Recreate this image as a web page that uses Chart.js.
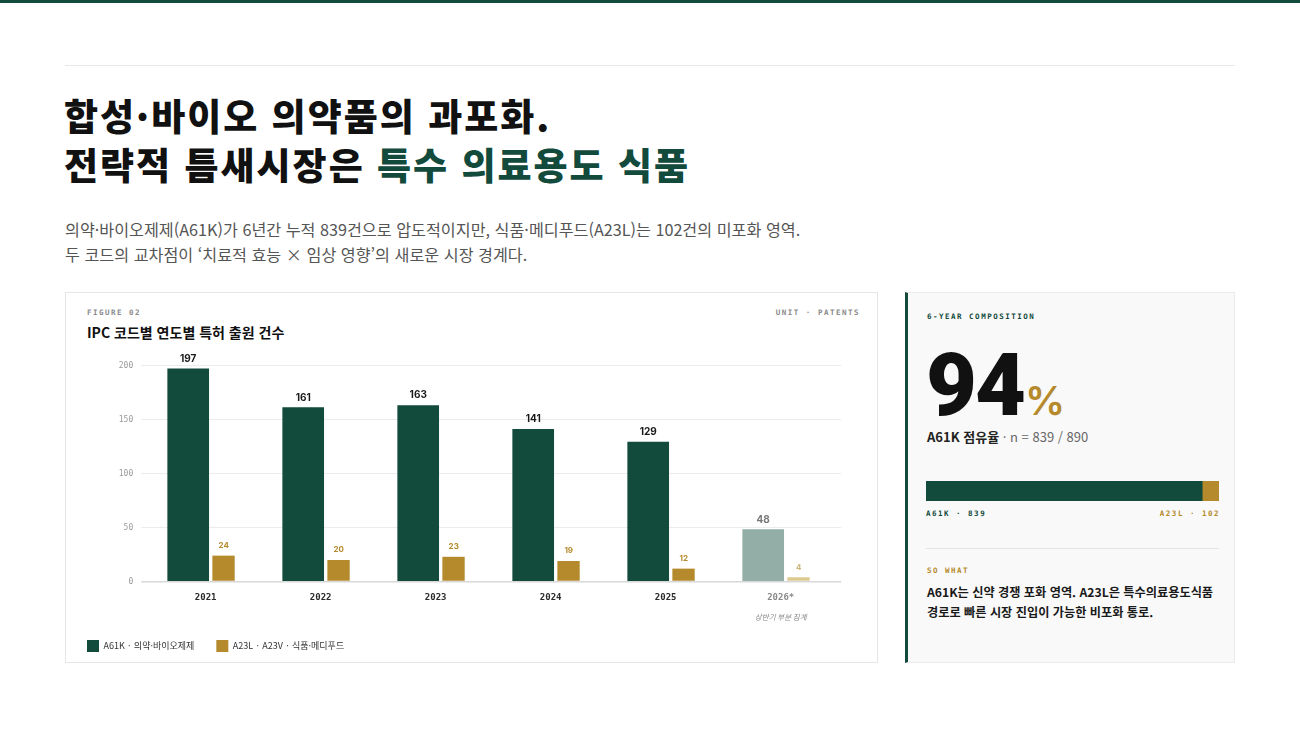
<!DOCTYPE html>
<html lang="ko">
<head>
<meta charset="utf-8">
<script src="https://cdn.jsdelivr.net/npm/chart.js@4.4.1/dist/chart.umd.min.js"></script>
<style>
	body { margin: 0; width: 1300px; height: 731px; position: relative; background: #fff; font-family: "Noto Sans CJK KR", "Noto Sans", sans-serif; overflow: hidden; }
	.abs { position: absolute; }
	.mono { font-family: "DejaVu Sans Mono", monospace; font-size: 7.5px; font-weight: bold; letter-spacing: 1.5px; line-height: 10px; white-space: nowrap; }
	#topbar { left: 0; top: 0; width: 1300px; height: 3px; background: #124a3c; }
	#rule { left: 65px; top: 65px; width: 1170px; height: 1px; background: #e8e8e8; }
	h1 { margin: 0; left: 64px; top: 91px; font-size: 37px; line-height: 49px; font-weight: 900; color: #111; letter-spacing: 2px; white-space: nowrap; }
	h1 em { font-style: normal; color: #124a3c; }
	#lead { margin: 0; left: 65px; top: 217px; font-size: 16.2px; line-height: 25px; color: #555; white-space: nowrap; }
	#card { left: 65px; top: 292px; width: 811px; height: 369px; border: 1px solid #e6e6e6; background: #fff; }
	#side { left: 905px; top: 292px; width: 326px; height: 369px; border: 1px solid #ebebeb; border-left: 3px solid #124a3c; background: #f9f9f9; }
</style>
</head>
<body>
<div id="topbar" class="abs"></div>
<div id="rule" class="abs"></div>
<h1 class="abs">합성·바이오 의약품의 과포화.<br>전략적 틈새시장은 <em>특수 의료용도 식품</em></h1>
<p id="lead" class="abs">의약·바이오제제(A61K)가 6년간 누적 839건으로 압도적이지만, 식품·메디푸드(A23L)는 102건의 미포화 영역.<br>두 코드의 교차점이 ‘치료적 효능 × 임상 영향’의 새로운 시장 경계다.</p>

<div id="card" class="abs"></div>
<div class="abs mono" style="left:87px;top:308px;color:#8a8a8a;">FIGURE 02</div>
<div class="abs mono" style="right:440px;top:308px;color:#8a8a8a;">UNIT · PATENTS</div>
<div class="abs" style="left:87px;top:322px;font-size:14px;line-height:20px;font-weight:700;color:#111;">IPC 코드별 연도별 특허 출원 건수</div>
<div class="abs" style="left:65px;top:345px;width:812px;height:317px;"><canvas id="patentChart"></canvas></div>

<div id="side" class="abs"></div>
<div class="abs mono" style="left:927px;top:312px;color:#124a3c;">6-YEAR COMPOSITION</div>
<div class="abs" style="left:926px;top:341px;display:flex;align-items:baseline;white-space:nowrap;">
	<span style="font-family:Roboto,sans-serif;font-weight:900;font-size:88px;line-height:88px;letter-spacing:-2px;color:#111;">94</span>
	<span style="font-family:Inter,sans-serif;font-weight:600;font-size:40px;color:#b58a2c;margin-left:1px;">%</span>
</div>
<div class="abs" style="left:927px;top:427px;font-size:13px;line-height:20px;white-space:nowrap;"><b style="color:#222;">A61K 점유율</b> <span style="color:#666;">· n = 839 / 890</span></div>
<div class="abs" style="left:926px;top:481px;width:293px;height:20px;"><canvas id="shareChart"></canvas></div>
<div class="abs mono" style="left:926px;top:509px;color:#124a3c;">A61K · 839</div>
<div class="abs mono" style="right:80px;top:509px;color:#b58a2c;">A23L · 102</div>
<div class="abs" style="left:926px;top:548px;width:293px;height:1px;background:#e4e4e4;"></div>
<div class="abs mono" style="left:927px;top:566px;color:#b58a2c;">SO WHAT</div>
<div class="abs" style="left:927px;top:582px;font-size:12.2px;line-height:20px;font-weight:700;color:#1a1a1a;white-space:nowrap;">A61K는 신약 경쟁 포화 영역. A23L은 특수의료용도식품<br>경로로 빠른 시장 진입이 가능한 비포화 통로.</div>

<script>
const years = ["2021", "2022", "2023", "2024", "2025", "2026*"];
const a61k = [197, 161, 163, 141, 129, 48];
const a23l = [24, 20, 23, 19, 12, 4];
const yMax = 200;
const yStep = 50;
const partialIndex = 5;
const partialNote = "상반기 부분 집계";

const shareTotal = 890;
const shareA61k = 839;
const shareA23l = 102;

const green = "#124a3c";
const greenLight = "#93aea7";
const gold = "#b58a2c";
const goldLight = "#dcc891";
const mono = "'DejaVu Sans Mono', monospace";
const sans = "'Noto Sans CJK KR', sans-serif";

// value labels above the bars
const valueLabels = {
	id: "valueLabels",
	afterDatasetsDraw(chart) {
		const ctx = chart.ctx;
		ctx.save();
		ctx.textAlign = "center";
		ctx.textBaseline = "bottom";
		chart.data.datasets.forEach((ds, di) => {
			chart.getDatasetMeta(di).data.forEach((bar, i) => {
				const partial = i === partialIndex;
				if (di === 0) {
					ctx.font = "bold 10px Inter, sans-serif";
					ctx.fillStyle = partial ? "#777" : "#1a1a1a";
					ctx.fillText(ds.data[i], bar.x, bar.y - 5);
				} else {
					ctx.font = "bold 8px Inter, sans-serif";
					ctx.fillStyle = partial ? "#cdb579" : gold;
					ctx.fillText(ds.data[i], bar.x + 2, bar.y - 6);
				}
			});
		});
		ctx.restore();
	},
	afterDraw(chart) {
		const ctx = chart.ctx;
		const x = chart.scales.x.getPixelForValue(partialIndex) - 3;
		ctx.save();
		ctx.font = "italic 7.5px " + sans;
		ctx.fillStyle = "#888";
		ctx.textAlign = "center";
		ctx.textBaseline = "middle";
		ctx.fillText(partialNote, x, chart.chartArea.bottom + 35.5);
		ctx.restore();
	},
};

const canvaPatent = document.getElementById("patentChart").getContext("2d");
const patentChart = new Chart(canvaPatent, {
	type: "bar",
	data: {
		labels: years,
		datasets: [
			{
				label: "A61K · 의약·바이오제제",
				data: a61k,
				backgroundColor: (c) => (c.dataIndex === partialIndex ? greenLight : green),
				barThickness: 41,
				borderWidth: 0,
			},
			{
				label: "A23L · A23V · 식품·메디푸드",
				data: a23l,
				backgroundColor: (c) => (c.dataIndex === partialIndex ? goldLight : gold),
				barThickness: 26,
				borderWidth: { left: 4, right: 0, top: 0, bottom: 0 },
				borderColor: "#ffffff",
				borderSkipped: false,
			},
		],
	},
	options: {
		responsive: true,
		maintainAspectRatio: false,
		animation: false,
		layout: { padding: { top: 20.5, right: 35.8, bottom: 0, left: 0 } },
		scales: {
			x: {
				grid: { display: false, drawTicks: false },
				border: { display: false },
				ticks: {
					padding: 11,
					labelOffset: -3,
					color: (c) => (c.index === partialIndex ? "#8a8a8a" : "#2a2a2a"),
					font: { family: mono, size: 9, weight: "bold" },
				},
				afterFit: (s) => { s.height = 36.5; },
			},
			y: {
				min: 0,
				max: yMax,
				ticks: {
					stepSize: yStep,
					padding: 8,
					color: "#9a9a9a",
					font: { family: mono, size: 8 },
				},
				grid: {
					color: (c) => (c.tick && c.tick.value === 0 ? "#d8d8d8" : "#ececec"),
					lineWidth: (c) => (c.tick && c.tick.value === 0 ? 1.5 : 1),
					drawTicks: true,
					tickLength: 10,
				},
				border: { display: false },
				afterFit: (s) => { s.width = 86.2; },
			},
		},
		plugins: {
			tooltip: { enabled: false },
			legend: {
				position: "bottom",
				align: "start",
				labels: {
					boxWidth: 12,
					boxHeight: 12,
					padding: 22,
					color: "#333",
					font: { family: sans, size: 9 },
					generateLabels: (ch) =>
						Chart.defaults.plugins.legend.labels.generateLabels(ch).map((l) => ({ ...l, lineWidth: 0 })),
				},
			},
		},
	},
	plugins: [valueLabels],
});

// 6-year composition bar, clipped at the total
const canvaShare = document.getElementById("shareChart").getContext("2d");
const shareChart = new Chart(canvaShare, {
	type: "bar",
	data: {
		labels: ["6Y"],
		datasets: [
			{ label: "A61K", data: [shareA61k], backgroundColor: green, barPercentage: 1, categoryPercentage: 1 },
			{ label: "A23L", data: [shareA23l], backgroundColor: gold, barPercentage: 1, categoryPercentage: 1 },
		],
	},
	options: {
		indexAxis: "y",
		responsive: true,
		maintainAspectRatio: false,
		animation: false,
		layout: { padding: 0 },
		scales: {
			x: { stacked: true, min: 0, max: shareTotal, display: false },
			y: { stacked: true, display: false },
		},
		plugins: { legend: { display: false }, tooltip: { enabled: false } },
	},
});
</script>
</body>
</html>
